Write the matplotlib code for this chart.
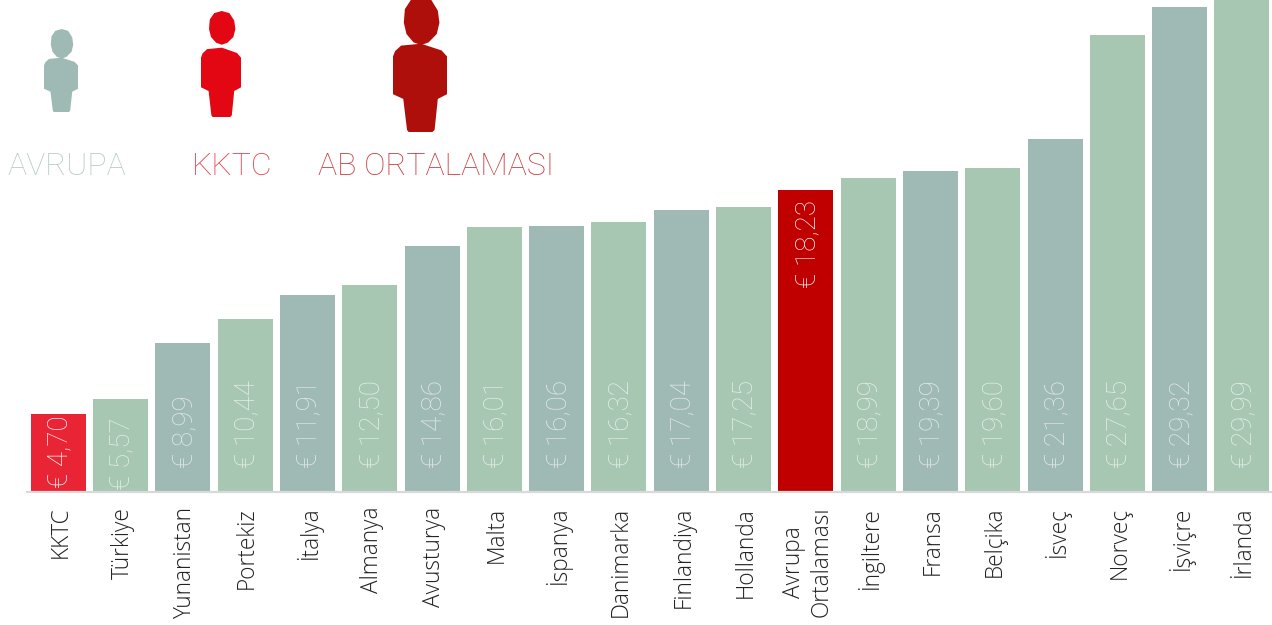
import matplotlib
matplotlib.use("Agg")
from matplotlib import pyplot as plt
from matplotlib.patches import Polygon
from matplotlib.transforms import Affine2D, ScaledTranslation

countries = ["KKTC", "Türkiye", "Yunanistan", "Portekiz", "İtalya", "Almanya", "Avusturya",
             "Malta", "İspanya", "Danimarka", "Finlandiya", "Hollanda", "Avrupa\nOrtalaması",
             "İngiltere", "Fransa", "Belçika", "İsveç", "Norveç", "İşviçre", "İrlanda"]
values = [4.70, 5.57, 8.99, 10.44, 11.91, 12.50, 14.86, 16.01, 16.06, 16.32,
          17.04, 17.25, 18.23, 18.99, 19.39, 19.60, 21.36, 27.65, 29.32, 29.99]

GREEN = "#a7c7b3"
GREY = "#9fb9b4"
RED = "#e92535"
DARK = "#c00000"
colors = [RED, GREEN, GREY, GREEN, GREY, GREEN, GREY, GREEN, GREY, GREEN,
          GREY, GREEN, DARK, GREEN, GREY, GREEN, GREY, GREEN, GREY, GREEN]

W, H = 1272, 625
BASE = 491.5
PX_PER_UNIT = 16.52
STEP = 62.3
FIRST = 58.3

plt.rcParams["font.family"] = ["Open Sans", "DejaVu Sans"]
plt.rcParams["font.weight"] = "light"

fig = plt.figure(figsize=(W / 100, H / 100), dpi=100)
ax = fig.add_axes([27 / W, (H - BASE) / H, (W - 27) / W, BASE / H])
ax.set_xlim((27 - FIRST) / STEP, (W - FIRST) / STEP)
ax.set_ylim(0, BASE / PX_PER_UNIT)

xs = list(range(len(values)))
bars = ax.bar(xs, values, width=55 / STEP, color=colors, zorder=2)

for spine in ["top", "left", "right"]:
    ax.spines[spine].set_visible(False)
ax.spines["bottom"].set_color("#d9d9d9")
ax.spines["bottom"].set_linewidth(1.6)
ax.set_yticks([])
ax.set_xticks(xs)
ax.set_xticklabels(countries, rotation=90, fontsize=16.3, color="#222222",
                   va="top", ha="center", multialignment="center")
ax.tick_params(axis="x", length=0, pad=11)
shift = ScaledTranslation(2 / 100, 0, fig.dpi_scale_trans)
for label in ax.get_xticklabels():
    label.set_transform(label.get_transform() + shift)

# value labels, the low bars and the average bar sit differently
for i, (bar, v) in enumerate(zip(bars, values)):
    off = 24
    if countries[i] == "KKTC":
        off = 3
    elif countries[i] == "Türkiye":
        off = 1
    elif v == 18.23:
        off = 204
    txt = ax.annotate("€ " + f"{v:.2f}".replace(".", ","), (i, 0), xytext=(1.2, off * 0.72),
                      textcoords="offset points", rotation=90, ha="center", va="bottom",
                      fontsize=20, family=["Roboto", "DejaVu Sans"], color="#ffffff",
                      alpha=0.7 if v != 18.23 and i != 0 else 0.95, zorder=3)
    txt.set_clip_path(bar)

# people in the legend, drawn in a 0-1 box (y down)
head = [(.52, 0), (.71, .02), (.83, .09), (.86, .17), (.81, .245), (.66, .30), (.52, .318),
        (.38, .30), (.25, .245), (.20, .17), (.22, .08), (.33, .02)]
body = [(.52, .346), (.90, .396), (1, .44), (1, .72), (.83, .755), (.77, .985), (.73, 1),
        (.29, 1), (.26, .985), (.19, .755), (0, .72), (0, .44), (.04, .40), (.15, .36)]


def person(x0, y0, x1, y1, color, stretch=0.0):
    t = Affine2D().scale(x1 - x0, y1 - y0).translate(x0, y0).scale(1, -1).translate(0, H)
    fig.add_artist(Polygon([(x, y * (1 + stretch)) for x, y in head], closed=True, fc=color, ec="none", transform=t))
    fig.add_artist(Polygon(body, closed=True, fc=color, ec="none", transform=t))


person(44, 29, 78, 112, "#9fb9b4", 0.12)
person(201, 11, 241, 117, "#e30613")
person(393, -3, 447, 132, "#ae0f0a", 0.12)

for x, label, c in [(67, "AVRUPA", "#b5cbc4"), (232.5, "KKTC", "#e8404c"), (436.5, "AB ORTALAMASI", "#c8383c")]:
    fig.text(x / W, 1 - 175 / H, label, ha="center", va="baseline", fontsize=23,
             family=["Roboto", "DejaVu Sans"], color=c)

fig.savefig("out.png", dpi=100)
